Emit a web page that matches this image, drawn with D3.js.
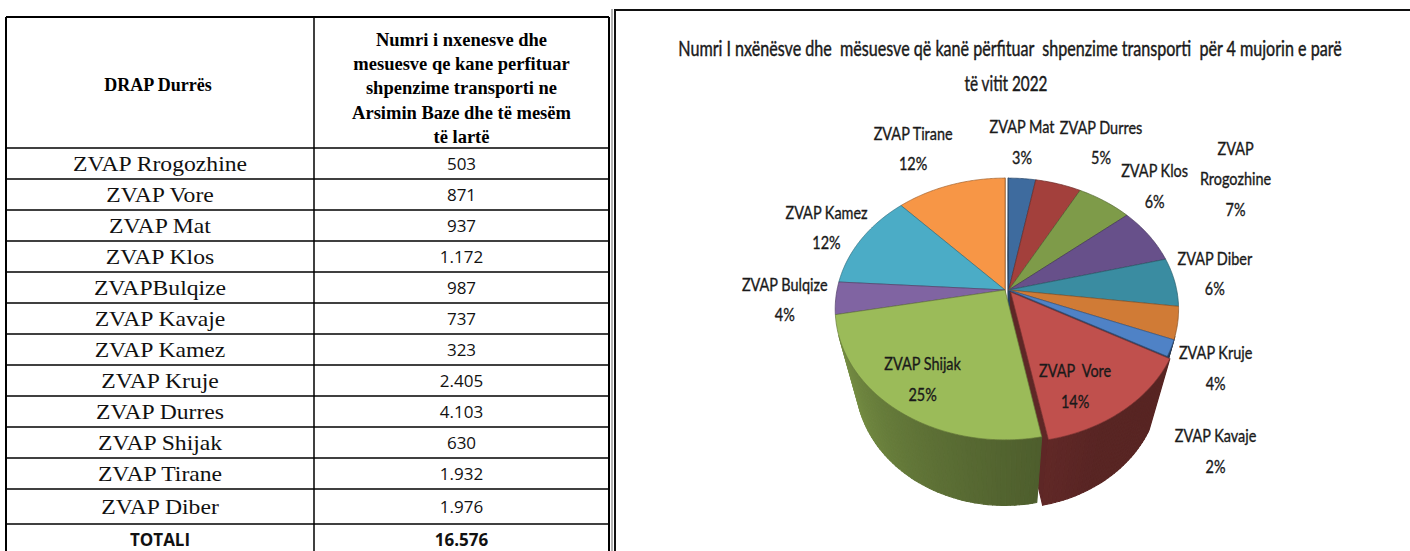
<!DOCTYPE html>
<html>
<head>
<meta charset="utf-8">
<script src="https://cdn.jsdelivr.net/npm/d3@7"></script>
<style>
  body { margin: 0; background: #fff; }
  svg { display: block; }
</style>
</head>
<body>
<script>
// ---- table data ----
const headerLeft = "DRAP Durrës";
const headerRightLines = ["Numri i nxenesve dhe", "mesuesve qe kane perfituar",
  "shpenzime transporti ne", "Arsimin Baze dhe të mesëm", "të lartë"];
const districts = ["ZVAP Rrogozhine", "ZVAP Vore", "ZVAP Mat", "ZVAP Klos", "ZVAPBulqize",
  "ZVAP Kavaje", "ZVAP Kamez", "ZVAP Kruje", "ZVAP Durres", "ZVAP Shijak", "ZVAP Tirane", "ZVAP Diber"];
const beneficiaries = [503, 871, 937, 1172, 987, 737, 323, 2405, 4103, 630, 1932, 1976];
const totalLabel = "TOTALI";

// ---- pie data (as printed on the chart) ----
const chartTitle = ["Numri I nxënësve dhe  mësuesve që kanë përfituar  shpenzime transporti  për 4 mujorin e parë",
  "të vitit 2022"];
const pieLabels = ["ZVAP Mat", "ZVAP Durres", "ZVAP Klos", "ZVAP Rrogozhine", "ZVAP Diber", "ZVAP Kruje",
  "ZVAP Kavaje", "ZVAP  Vore", "ZVAP Shijak", "ZVAP Bulqize", "ZVAP Kamez", "ZVAP Tirane"];
const piePercents = [3, 5, 6, 7, 6, 4, 2, 14, 25, 4, 12, 12];
const pieColors = ["#3e6b9e", "#a3403c", "#7e9b49", "#67508a", "#3a8ca1", "#d07b36",
  "#4f82c6", "#c0504d", "#9bbb59", "#8064a2", "#4bacc6", "#f79646"];

// label placement (angle shift in degrees, radius in pie units)
const labelShift = [-0.4, 6.5, 7.9, -5.4, -2.4, 11.4, 19.8, 6.7, 1.2, 0.6, -0.4, -4.7];
const labelRadius = [1.40, 1.55, 1.37, 1.86, 1.28, 1.28, 1.50, 0.77, 0.77, 1.30, 1.26, 1.47];

const fmt = d3.formatLocale({ decimal: ",", thousands: ".", grouping: [3], currency: ["", ""] }).format(",");

const svg = d3.select("body").append("svg")
  .attr("width", 1410)
  .attr("height", 551);

svg.append("rect").attr("width", 1410).attr("height", 551).attr("fill", "#fff");

drawTable();
drawChartFrame();
drawPie();

function drawTable() {
  const left = 6, mid = 314, right = 609, top = 17, headBottom = 148;
  const rowH = districts.map((d, i) => i === districts.length - 1 ? 35 : 31);
  rowH.push(40); // total row, runs off the page
  const rowTop = [headBottom];
  rowH.forEach((h, i) => rowTop.push(rowTop[i] + h));

  const g = svg.append("g");
  const cx1 = (left + mid) / 2, cx2 = (mid + right) / 2;

  // header
  g.append("text")
    .attr("x", cx1 - 2).attr("y", 85)
    .attr("text-anchor", "middle").attr("dominant-baseline", "central")
    .style("font-family", "Liberation Serif").style("font-weight", "bold").style("font-size", "18px")
    .text(headerLeft);

  g.selectAll(".hl").data(headerRightLines).enter().append("text")
    .attr("x", cx2).attr("y", (d, i) => 40 + i * 24.2)
    .attr("text-anchor", "middle").attr("dominant-baseline", "central")
    .style("font-family", "Liberation Serif").style("font-weight", "bold").style("font-size", "18.5px")
    .text(d => d);

  const rows = districts.map((d, i) => ({ name: d, value: fmt(beneficiaries[i]), bold: false }));
  rows.push({ name: totalLabel, value: fmt(d3.sum(beneficiaries)), bold: true });

  rows.forEach((r, i) => {
    const yc = i === rows.length - 1 ? rowTop[i] + 15 : rowTop[i] + rowH[i] / 2;
    g.append("text")
      .attr("transform", `translate(${cx1},${yc}) scale(${r.bold ? 1 : 1.1},1)`)
      .attr("text-anchor", "middle").attr("dominant-baseline", "central")
      .style("font-family", r.bold ? "Open Sans" : "Liberation Serif")
      .style("font-weight", r.bold ? "bold" : "normal")
      .style("font-size", r.bold ? "17px" : "21.5px")
      .attr("fill", "#111")
      .text(r.name);
    g.append("text")
      .attr("x", cx2).attr("y", yc)
      .attr("text-anchor", "middle").attr("dominant-baseline", "central")
      .style("font-family", "Open Sans")
      .style("font-weight", r.bold ? "bold" : "normal")
      .style("font-size", "17px")
      .attr("fill", "#111")
      .text(r.value);
  });

  // grid lines
  const lines = g.append("g").attr("stroke", "#000").attr("stroke-width", 1.5);
  rowTop.slice(0, rowTop.length - 1).forEach(y => {
    lines.append("line").attr("x1", left).attr("x2", right).attr("y1", y).attr("y2", y);
  });
  lines.append("line").attr("x1", left).attr("x2", right).attr("y1", top).attr("y2", top).attr("stroke-width", 2);
  lines.append("line").attr("x1", left).attr("x2", left).attr("y1", top).attr("y2", 551).attr("stroke-width", 2);
  lines.append("line").attr("x1", right).attr("x2", right).attr("y1", top).attr("y2", 551).attr("stroke-width", 2);
  lines.append("line").attr("x1", mid).attr("x2", mid).attr("y1", top).attr("y2", 551);
}

function drawChartFrame() {
  svg.append("line").attr("x1", 612).attr("x2", 612).attr("y1", 9).attr("y2", 551)
    .attr("stroke", "#999").attr("stroke-width", 1.5);
  svg.append("path").attr("d", "M615,551V10H1410")
    .attr("fill", "none").attr("stroke", "#111").attr("stroke-width", 2);

  const t = svg.append("g").style("font-family", "Lato")
    .attr("fill", "#1a1a1a").attr("stroke", "#1a1a1a").attr("stroke-width", 0.45);
  // squeeze each title line to the width it has in the original
  [[chartTitle[0], 1010, 47, 664], [chartTitle[1], 1006, 82, 83]].forEach(([txt, x, y, w]) => {
    const el = t.append("text")
      .attr("text-anchor", "middle").attr("dominant-baseline", "central")
      .style("font-size", "22px").style("white-space", "pre")
      .text(txt);
    const natural = el.node().getComputedTextLength() || w;
    el.attr("transform", `translate(${x},${y}) scale(${w / natural},1)`);
  });
}

function drawPie() {
  // simple perspective camera over a unit-radius cylinder
  const cam = { cx: 1005, cy: 290, rx: 168, dist: 4.46, tilt: 49.7, height: 0.78 };
  const sinT = Math.sin(cam.tilt * Math.PI / 180), cosT = Math.cos(cam.tilt * Math.PI / 180);
  const focal = cam.rx * cam.dist;

  function project(X, Z, h) {
    const d = cam.dist - Z * cosT - h * sinT;
    return [cam.cx + focal * X / d, cam.cy + focal * (Z * sinT - h * cosT) / d];
  }

  const arcs = d3.pie().sort(null).value(d => d)(piePercents);

  // right group is nudged right, Vore pulled out a little more
  arcs.forEach((a, i) => {
    const mid = (a.startAngle + a.endAngle) / 2;
    a.mid = mid;
    a.ox = i <= 7 ? 0.022 : 0;
    a.oz = 0;
    if (i === 7) {
      a.ox += 0.02 * Math.sin(mid);
      a.oz += -0.02 * Math.cos(mid);
    }
  });

  const line = d3.line();
  const step = Math.PI / 180;
  const walls = [];

  arcs.forEach((a, i) => {
    // outer wall, split into small strips for shading
    const n = Math.max(1, Math.ceil((a.endAngle - a.startAngle) / (1.5 * step)));
    for (let k = 0; k < n; k++) {
      const t0 = a.startAngle + (a.endAngle - a.startAngle) * k / n;
      const t1 = a.startAngle + (a.endAngle - a.startAngle) * (k + 1) / n;
      const tm = (t0 + t1) / 2;
      if (Math.cos(tm) > -1 / (cam.dist * cosT)) continue;
      const pts = [
        project(a.ox + Math.sin(t0), a.oz - Math.cos(t0), 0),
        project(a.ox + Math.sin(t1), a.oz - Math.cos(t1), 0),
        project(a.ox + Math.sin(t1), a.oz - Math.cos(t1), -cam.height),
        project(a.ox + Math.sin(t0), a.oz - Math.cos(t0), -cam.height)
      ];
      const deg = tm * 180 / Math.PI;
      const shade = Math.max(0.45, Math.min(2.2, 0.5 + (265 - deg) * 0.015));
      const col = d3.color(pieColors[i]).darker(shade);
      walls.push({ z: a.oz - Math.cos(tm), d: line(pts) + "Z", fill: col });
    }
    // radial walls where the neighbour is offset differently
    [["start", a.startAngle, (i + arcs.length - 1) % arcs.length], ["end", a.endAngle, (i + 1) % arcs.length]]
      .forEach(([side, ang, nb]) => {
        const o = arcs[nb];
        if (Math.abs(o.ox - a.ox) < 1e-6 && Math.abs(o.oz - a.oz) < 1e-6) return;
        const nx = side === "end" ? Math.cos(ang) : -Math.cos(ang);
        const nz = side === "end" ? Math.sin(ang) : -Math.sin(ang);
        const px = a.ox + 0.5 * Math.sin(ang), pz = a.oz - 0.5 * Math.cos(ang);
        if (-px * nx + (cam.dist * cosT - pz) * nz <= 0) return;
        const pts = [
          project(a.ox, a.oz, 0),
          project(a.ox + Math.sin(ang), a.oz - Math.cos(ang), 0),
          project(a.ox + Math.sin(ang), a.oz - Math.cos(ang), -cam.height),
          project(a.ox, a.oz, -cam.height)
        ];
        walls.push({ z: pz, d: line(pts) + "Z", fill: d3.color(pieColors[i]).darker(2) });
      });
  });

  const gPie = svg.append("g");
  gPie.selectAll(".wall")
    .data(walls.sort((p, q) => p.z - q.z))
    .enter().append("path")
    .attr("class", "wall")
    .attr("d", d => d.d)
    .attr("fill", d => d.fill)
    .attr("stroke", d => d.fill)
    .attr("stroke-width", 1.1)
    .attr("stroke-linejoin", "round");

  // top faces
  const tops = arcs.map((a, i) => {
    const pts = [project(a.ox, a.oz, 0)];
    const n = Math.max(2, Math.ceil((a.endAngle - a.startAngle) / (0.5 * step)));
    for (let k = 0; k <= n; k++) {
      const t = a.startAngle + (a.endAngle - a.startAngle) * k / n;
      pts.push(project(a.ox + Math.sin(t), a.oz - Math.cos(t), 0));
    }
    return { i: i, z: a.oz - Math.cos(a.mid), d: line(pts) + "Z" };
  });

  gPie.selectAll(".top")
    .data(tops.sort((p, q) => p.z - q.z))
    .enter().append("path")
    .attr("class", "top")
    .attr("d", d => d.d)
    .attr("fill", d => pieColors[d.i])
    .attr("stroke", d => d3.color(pieColors[d.i]).darker(1.2))
    .attr("stroke-width", 0.7)
    .attr("stroke-linejoin", "round");

  // labels
  const gLab = svg.append("g").style("font-family", "Lato").style("font-size", "17px")
    .attr("fill", "#1a1a1a").attr("stroke", "#1a1a1a").attr("stroke-width", 0.35);
  arcs.forEach((a, i) => {
    const ang = a.mid + labelShift[i] * Math.PI / 180;
    const r = labelRadius[i];
    const [lx, ly] = project(r * Math.sin(ang), -r * Math.cos(ang), 0);
    const name = pieLabels[i];
    const parts = name.length > 13 ? [name.slice(0, name.indexOf(" ")), name.slice(name.indexOf(" ") + 1)] : [name];
    parts.push(piePercents[i] + "%");
    parts.forEach((txt, k) => {
      const y = ly + (k - (parts.length - 1) / 2) * 30.5;
      gLab.append("text")
        .attr("transform", `translate(${lx},${y}) scale(0.85,1)`)
        .attr("text-anchor", "middle")
        .attr("dominant-baseline", "central")
        .style("white-space", "pre")
        .text(txt);
    });
  });
}
</script>
</body>
</html>
